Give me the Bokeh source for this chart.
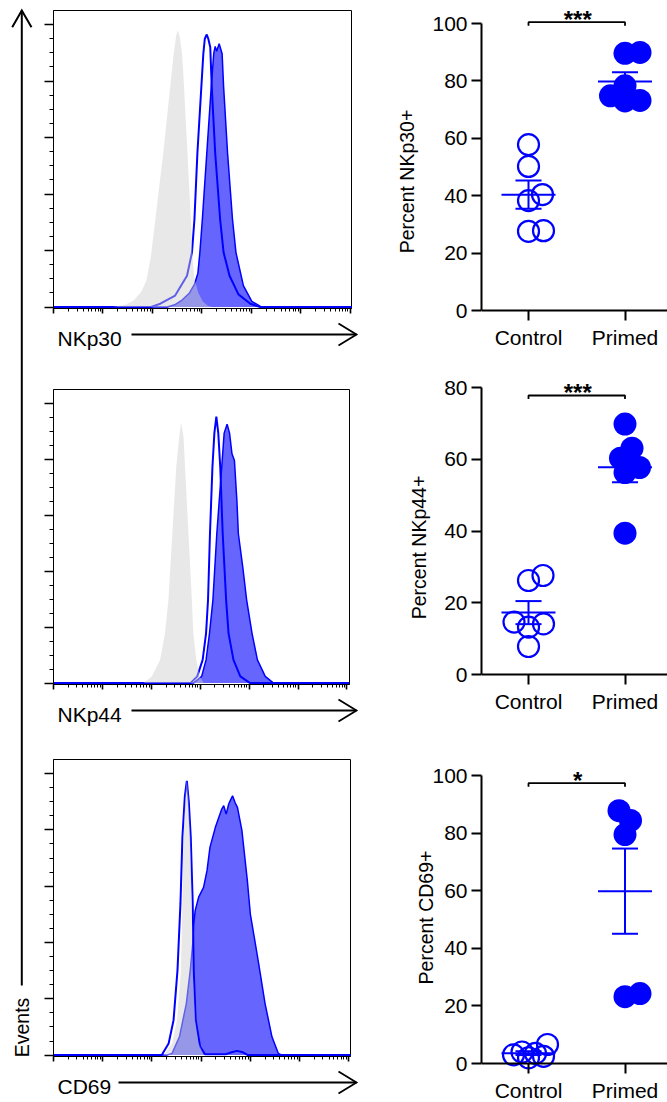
import math
from bokeh.plotting import figure
from bokeh.layouts import row, column
from bokeh.models import Range1d, FixedTicker, CustomLabelingPolicy
from bokeh.core.properties import value
from bokeh.embed import file_html
from bokeh.resources import INLINE

FONT = "Liberation Sans"
BLUE = "#0000ff"

# ------------------------------------------------------------------ data
markers = ["NKp30", "NKp44", "CD69"]
group_labels = ["Control", "Primed"]
y_labels = ["Percent NKp30+", "Percent NKp44+", "Percent CD69+"]
sig_labels = ["***", "***", "*"]
y_ticks_30 = [0, 20, 40, 60, 80, 100]
y_ticks_44 = [0, 20, 40, 60, 80]
y_ticks_69 = [0, 20, 40, 60, 80, 100]

# percent positive, per donor
nkp30_control = [57.8, 50.2, 40.4, 38.3, 27.6, 27.8]
nkp30_primed = [89.9, 89.6, 78.3, 74.8, 73.2, 73.0]
nkp44_control = [27.6, 26.2, 14.6, 14.1, 13.2, 7.8]
nkp44_primed = [69.8, 63.1, 60.3, 57.7, 56.3, 39.4]
cd69_control = [6.6, 4.0, 3.5, 3.0, 2.5, 2.0]
cd69_primed = [87.8, 84.4, 79.5, 24.3, 23.2]

# histograms: x in log decades, y in % of mode scale (100 = top major tick)
nkp30_iso_x = [0, 1.2, 1.45, 1.62, 1.78, 1.88, 1.97, 2.06, 2.14, 2.22, 2.30, 2.36, 2.43, 2.48, 2.51,
               2.55, 2.60, 2.64, 2.68, 2.71, 2.75, 2.78, 2.81, 2.85, 2.93, 3.02, 3.12, 3.2, 6.05]
nkp30_iso_y = [0, 0, 0.8, 2.3, 5.5, 9.5, 18, 31, 43, 54.5, 68, 78, 89.7, 96, 98,
               96, 89.7, 78, 64, 54.5, 40, 30, 18, 10, 5, 2, 0.5, 0, 0]
nkp30_ctrl_x = [0, 1.96, 2.16, 2.46, 2.70, 2.80, 2.85, 2.91, 2.99, 3.03, 3.06, 3.10, 3.13, 3.17,
                3.20, 3.27, 3.37, 3.44, 3.56, 3.74, 3.98, 4.18, 6.05]
nkp30_ctrl_y = [0, 0, 1.2, 4.1, 11.1, 19.3, 31, 54.5, 78, 89.7, 95, 96.5, 95, 92,
                78, 54.5, 31, 19.3, 11.1, 4.5, 1.2, 0, 0]
nkp30_prim_x = [0, 2.30, 2.45, 2.60, 2.75, 2.85, 2.92, 2.96, 3.01, 3.10, 3.19, 3.24, 3.27, 3.30,
                3.35, 3.41, 3.44, 3.52, 3.62, 3.69, 3.84, 4.01, 4.21, 6.05]
nkp30_prim_y = [0, 0, 0.8, 2.5, 5, 8, 12, 19.3, 31, 54.5, 78, 89.7, 92.3, 90.6,
                93.2, 89.7, 78, 54.5, 31, 19.3, 7.6, 2, 0, 0]

nkp44_iso_x = [0, 1.84, 2.01, 2.18, 2.28, 2.35, 2.43, 2.51, 2.57, 2.61, 2.66, 2.69, 2.76, 2.83,
               2.86, 2.92, 2.99, 3.07, 6.05]
nkp44_iso_y = [0, 0, 2.4, 8.3, 17.8, 29.7, 53.5, 77.2, 88, 93.2, 88, 77.2, 53.5, 29.7,
               17.8, 8.3, 2.4, 0, 0]
nkp44_ctrl_x = [0, 2.80, 2.94, 3.05, 3.12, 3.16, 3.20, 3.25, 3.29, 3.33, 3.37, 3.41, 3.46, 3.53,
                3.58, 3.68, 3.82, 4.02, 6.05]
nkp44_ctrl_y = [0, 0, 2.4, 8.3, 17.8, 29.7, 53.5, 77.2, 89.4, 95.3, 89.4, 77.2, 53.5, 29.7,
                17.8, 8.3, 2.4, 0, 0]
nkp44_prim_x = [0, 2.86, 3.03, 3.12, 3.19, 3.26, 3.34, 3.39, 3.44, 3.49, 3.55, 3.60, 3.65, 3.70,
                3.75, 3.78, 3.87, 3.95, 4.06, 4.17, 4.33, 4.5, 6.05]
nkp44_prim_y = [0, 0, 2.4, 8.3, 17.8, 29.7, 53.5, 65.4, 77.2, 89.4, 92.6, 89.4, 82, 79.6,
                65.4, 53.5, 41.6, 29.7, 17.8, 8.3, 2.4, 0, 0]

cd69_iso_x = [0, 2.24, 2.41, 2.51, 2.59, 2.62, 2.64, 2.68, 2.71, 2.74, 2.76, 2.78, 2.81, 2.83,
              2.88, 2.95, 3.05, 6.05]
cd69_iso_y = [0, 0, 4.1, 12.4, 30.1, 53.7, 77.3, 92, 98, 92, 84, 77.3, 53.7, 30.1,
              12.4, 4.1, 0, 0]
cd69_ctrl_x = [0, 2.20, 2.34, 2.44, 2.52, 2.58, 2.62, 2.67, 2.71, 2.75, 2.79, 2.83, 2.85, 2.89,
               2.98, 3.08, 3.5, 3.62, 3.73, 3.85, 3.95, 6.05]
cd69_ctrl_y = [0, 0, 4.1, 12.4, 30.1, 53.7, 77.3, 92, 97.4, 90, 77.3, 53.7, 30.1, 12.4,
               3, 0.3, 0.3, 1, 1.5, 1, 0, 0]
cd69_prim_x = [0, 2.30, 2.41, 2.56, 2.70, 2.78, 2.83, 2.85, 2.88, 2.95, 3.05, 3.12, 3.18, 3.29,
               3.42, 3.46, 3.51, 3.56, 3.59, 3.64, 3.69, 3.74, 3.83, 3.94, 4.0, 4.08, 4.17, 4.30,
               4.44, 4.57, 4.64, 6.05]
cd69_prim_y = [0, 0, 0.6, 6.5, 18.3, 30.1, 39.5, 46.6, 51.3, 56.1, 59.6, 65.5, 73.8, 80.9,
               87.4, 88.6, 85.6, 89.1, 90.3, 92.1, 89.7, 87.9, 79.7, 62, 50.2, 41.9, 32.5, 18.3,
               6.5, 0.6, 0, 0]

# ------------------------------------------------------------------ helpers
NO_LABELS = CustomLabelingPolicy(code="""
try { for (const i of Array.from(indices)) { indices.unset(i) } } catch (e) {}
return indices
""")


def no_align(p):
    try:
        p.frame_align = False
    except Exception:
        pass
    return p


def mean_sem(v):
    n = len(v)
    m = sum(v) / n
    sd = math.sqrt(sum((a - m) ** 2 for a in v) / (n - 1))
    return m, sd / math.sqrt(n)


def swarm(vals, pxu, pxx, d=15.0, w=19.0, step=0.5):
    """capped beeswarm: x offsets (data units); crowded points overlap inside +-w px"""
    order = sorted(range(len(vals)), key=lambda i: vals[i])
    placed = []
    off = [0.0] * len(vals)
    n_steps = int(w / step)
    cands = [0.0]
    for k in range(1, n_steps + 1):
        cands += [k * step, -k * step]
    for i in order:
        y = vals[i] * pxu
        best, best_d = 0.0, -1.0
        for c in cands:
            md = min((math.hypot(c - px, y - py) for px, py in placed), default=1e9)
            if md >= d:
                best = c
                break
            if md > best_d + 1e-9:
                best, best_d = c, md
        placed.append((best, y))
        off[i] = best / pxx
    return off


def blank(width, height, x0, x1, y0, y1):
    p = figure(width=width, height=height, x_range=Range1d(x0, x1), y_range=Range1d(y0, y1),
               x_axis_type=None, y_axis_type=None, min_border=0, title=None,
               output_backend="svg", toolbar_location=None)
    p.outline_line_color = None
    p.grid.visible = False
    return no_align(p)


HW = 332          # histogram column width (canvas x 40..372)
HX0 = 40


def hist_panel(iso, ctrl, prim, canvas_top, H, frame_top, frame_bottom, frame_left, frame_right, pxdec):
    xe = (frame_right - frame_left) / pxdec
    p = figure(width=HW, height=H, x_range=Range1d(0, xe), y_range=Range1d(-0.5, 105),
               min_border_left=frame_left - HX0, min_border_right=HX0 + HW - frame_right,
               min_border_top=frame_top - canvas_top, min_border_bottom=canvas_top + H - frame_bottom,
               title=None, output_backend="svg", toolbar_location=None)
    no_align(p)
    p.grid.visible = False
    p.outline_line_color = "black"
    p.outline_line_width = 1
    # primed: filled
    p.varea(x=prim[0], y1=0, y2=prim[1], fill_color=BLUE, fill_alpha=0.6)
    p.line(prim[0], prim[1], line_color=BLUE, line_width=1.5)
    # control: outline only
    p.line(ctrl[0], ctrl[1], line_color=BLUE, line_width=2)
    # isotype: translucent grey on top
    p.varea(x=iso[0], y1=0, y2=iso[1], fill_color="#cecece", fill_alpha=0.47)

    minor_x = [d + math.log10(k) for d in range(6) for k in range(2, 10)]
    p.xaxis.ticker = FixedTicker(ticks=list(range(7)), minor_ticks=minor_x)
    p.yaxis.ticker = FixedTicker(ticks=[0, 20, 40, 60, 80, 100],
                                 minor_ticks=[v for v in range(5, 105, 5) if v % 20])
    for ax, maj, mnr in ((p.xaxis, 5, 3), (p.yaxis, 9, 4)):
        ax.major_tick_out = maj
        ax.major_tick_in = 0
        ax.minor_tick_out = mnr
        ax.minor_tick_in = 0
        ax.major_tick_line_width = 1.6
        ax.minor_tick_line_width = 1
        ax.axis_line_width = 1
        ax.major_label_text_font_size = "0px"
        ax.major_label_standoff = 0
        ax.major_label_policy = NO_LABELS
    return p


def label_panel(text, canvas_top, H, frame_bottom, arrow_start):
    p = blank(HW, H, HX0, HX0 + HW, -(canvas_top + H), -canvas_top)
    mid = frame_bottom + 30
    ay = frame_bottom + 26
    p.text(x=[57], y=[-mid], text=[text], text_font=value(FONT), text_font_size="21px",
           text_baseline="middle", text_align="left", text_color="black")
    p.line([arrow_start, 356], [-ay, -ay], line_color="black", line_width=1.8)
    p.line([338, 356, 338], [-ay + 11, -ay, -ay - 11], line_color="black", line_width=1.8,
           line_join="miter")
    return p


DW = 295
D_LEFT = 481
XS = -(528 - D_LEFT) / 96.5
XE = XS + (DW - (D_LEFT - 372)) / 96.5


def dot_panel(ctrl, prim, yticks, ylabel, sig, canvas_top, H, zero_Y, top_Y, bracket_Y, lab_standoff):
    pxu = (zero_Y - top_Y) / yticks[-1]
    frame_top, frame_bottom = canvas_top, canvas_top + H
    ys = -(frame_bottom - zero_Y) / pxu
    ye = (zero_Y - frame_top) / pxu
    p = figure(width=DW, height=H, x_range=Range1d(XS, XE), y_range=Range1d(ys, ye),
               min_border_left=D_LEFT - 372, min_border_right=0,
               min_border_top=0, min_border_bottom=0,
               title=None, output_backend="svg", toolbar_location=None)
    no_align(p)
    p.grid.visible = False
    p.outline_line_color = None

    pxx = 96.5
    c_off = swarm(ctrl, pxu, pxx)
    p_off = swarm(prim, pxu, pxx)
    p.scatter([0 + o for o in c_off], ctrl, size=21, marker="circle", fill_color=None,
              line_color=BLUE, line_width=2.2)
    p.scatter([1 + o for o in p_off], prim, size=23, marker="circle", fill_color=BLUE,
              line_color=None)
    for xc, vals in ((0, ctrl), (1, prim)):
        m, s = mean_sem(vals)
        p.line([xc - 0.28, xc + 0.28], [m, m], line_color=BLUE, line_width=2)
        p.line([xc, xc], [m - s, m + s], line_color=BLUE, line_width=2)
        for yy in (m - s, m + s):
            p.line([xc - 0.135, xc + 0.135], [yy, yy], line_color=BLUE, line_width=2)

    # significance bracket
    by = (zero_Y - bracket_Y) / pxu
    drop = 3.5 / pxu
    p.line([0, 0, 1, 1], [by - drop, by, by, by - drop], line_color="black", line_width=1.8)
    p.text(x=[0.51], y=[by + 3 / pxu], text=[sig], text_font=value(FONT), text_font_size="24px",
           text_font_style="bold", text_align="center", text_baseline="middle",
           text_color="black")

    p.xaxis.fixed_location = 0
    p.xaxis.ticker = FixedTicker(ticks=[0, 1])
    p.xaxis.major_label_overrides = {0: group_labels[0], 1: group_labels[1]}
    p.yaxis.ticker = FixedTicker(ticks=yticks)
    p.yaxis.bounds = (0, yticks[-1])
    p.yaxis.axis_label = ylabel
    p.yaxis.axis_label_text_font = FONT
    p.yaxis.axis_label_text_font_size = "19.5px"
    p.yaxis.axis_label_text_font_style = "normal"
    p.yaxis.axis_label_text_color = "black"
    p.yaxis.axis_label_standoff = lab_standoff
    p.yaxis.major_label_standoff = 4
    p.xaxis.major_label_standoff = 5
    for ax in (p.xaxis, p.yaxis):
        ax.axis_line_width = 2
        ax.axis_line_color = "black"
        ax.major_tick_line_width = 2
        ax.major_tick_out = 10
        ax.major_tick_in = 0
        ax.minor_tick_line_color = None
        ax.major_label_text_font = FONT
        ax.major_label_text_font_size = "21px"
        ax.major_label_text_color = "black"
    return p


# ------------------------------------------------------------------ build
ev = blank(40, 1102, 0, 40, -1102, 0)
ev.line([21.3, 21.3], [-985, -10], line_color="black", line_width=2)
ev.line([11.7, 21.3, 31], [-26.7, -10, -26.7], line_color="black", line_width=2, line_join="miter")
ev.text(x=[21.2], y=[-1027], text=["Events"], angle=math.pi / 2, text_font=value(FONT),
        text_font_size="19.5px", text_align="center", text_baseline="middle", text_color="black")

h1 = hist_panel((nkp30_iso_x, nkp30_iso_y), (nkp30_ctrl_x, nkp30_ctrl_y), (nkp30_prim_x, nkp30_prim_y),
                0, 314, 10, 308, 53, 351, 49.45)
l1 = label_panel(markers[0], 314, 46, 308, 131)
h2 = hist_panel((nkp44_iso_x, nkp44_iso_y), (nkp44_ctrl_x, nkp44_ctrl_y), (nkp44_prim_x, nkp44_prim_y),
                360, 330, 389, 684, 53, 349, 48.9)
l2 = label_panel(markers[1], 690, 42, 684, 131)
h3 = hist_panel((cd69_iso_x, cd69_iso_y), (cd69_ctrl_x, cd69_ctrl_y), (cd69_prim_x, cd69_prim_y),
                732, 330, 759, 1056, 53, 350, 49.2)
l3 = label_panel(markers[2], 1062, 40, 1056, 118)

d1 = dot_panel(nkp30_control, nkp30_primed, y_ticks_30, y_labels[0], sig_labels[0],
               0, 362, 310, 23, 21.7, 11)
d2 = dot_panel(nkp44_control, nkp44_primed, y_ticks_44, y_labels[1], sig_labels[1],
               362, 370, 674, 387, 395, 11)
d3 = dot_panel(cd69_control, cd69_primed, y_ticks_69, y_labels[2], sig_labels[2],
               732, 370, 1063, 775, 782.7, -8)

layout = row(ev, column(h1, l1, h2, l2, h3, l3), column(d1, d2, d3))

open("out.html", "w").write(file_html(layout, INLINE))
